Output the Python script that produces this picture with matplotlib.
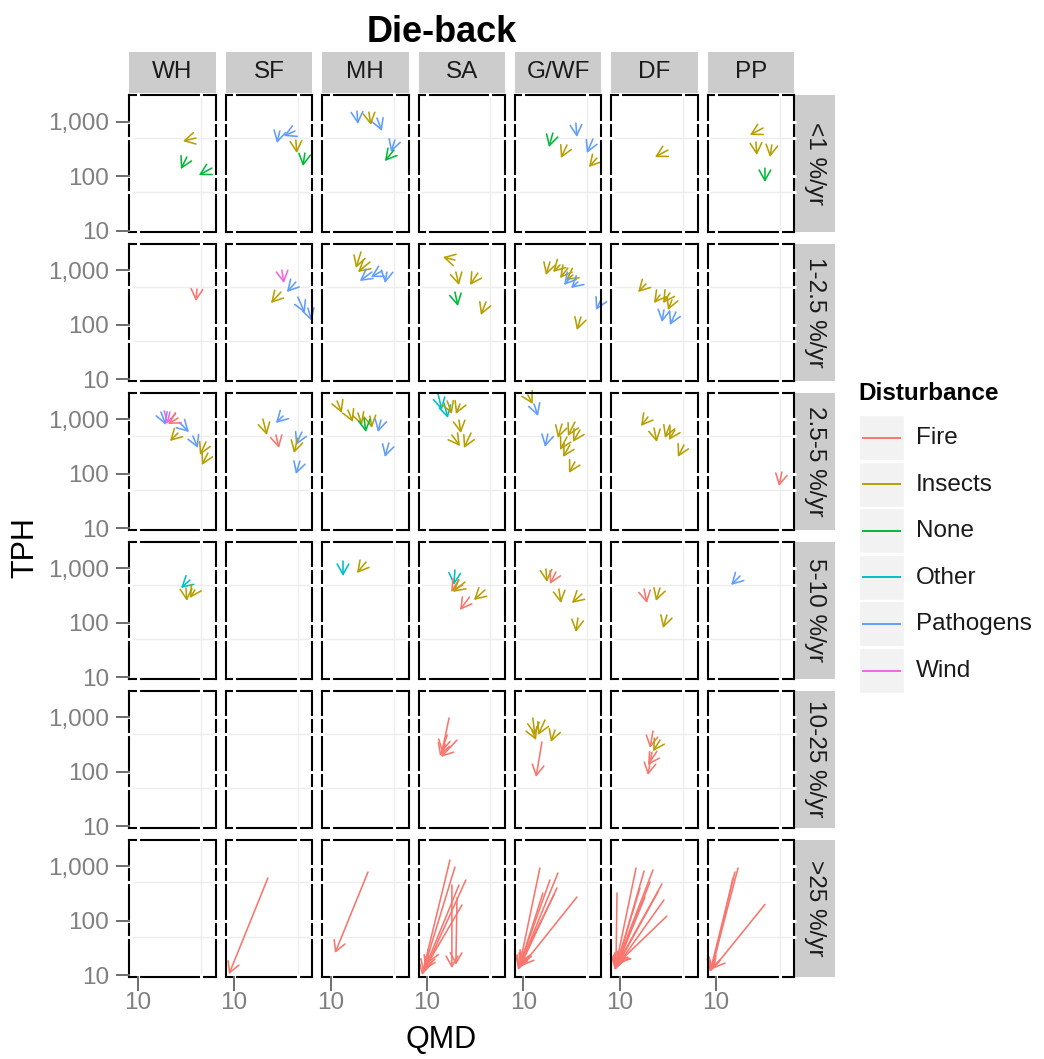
import matplotlib
matplotlib.use("Agg")
import matplotlib.pyplot as plt
import matplotlib.ticker as mticker
from matplotlib.patches import Rectangle

plt.rcParams['font.family'] = ['Liberation Sans', 'DejaVu Sans']

# ---------------- data ----------------
species = ["WH", "SF", "MH", "SA", "G/WF", "DF", "PP"]
rates = ["<1 %/yr", "1-2.5 %/yr", "2.5-5 %/yr", "5-10 %/yr", "10-25 %/yr", ">25 %/yr"]
disturbances = ["Fire", "Insects", "None", "Other", "Pathogens", "Wind"]
dist_colors = ["#F8766D", "#B79F00", "#00BA38", "#00BFC4", "#619CFF", "#F564E3"]

y_breaks = [10, 100, 1000]
y_labels = ["10", "100", "1,000"]
y_minor = [50, 500]
x_breaks = [10]
x_labels = ["10"]
x_minor = [50]

# (species, disturbance, QMD start, TPH start, QMD end, TPH end)
rate_lt1 = [
    ("WH", "Insects", 43.6, 498, 31.4, 438),
    ("WH", "None", 34.7, 223, 29.8, 134),
    ("WH", "None", 65.3, 140, 47.0, 104),
    ("SF", "Pathogens", 31.8, 670, 29.5, 403),
    ("SF", "Pathogens", 46.6, 670, 35.2, 542),
    ("SF", "Insects", 47.7, 458, 48.9, 264),
    ("SF", "None", 60.0, 264, 57.0, 152),
    ("MH", "Pathogens", 19.5, 1560, 20.0, 900),
    ("MH", "Insects", 26.4, 1490, 27.8, 863),
    ("MH", "Pathogens", 32.4, 1160, 36.7, 670),
    ("MH", "Pathogens", 51.0, 458, 46.2, 276),
    ("MH", "None", 49.8, 300, 39.6, 188),
    ("G/WF", "None", 21.1, 615, 19.1, 340),
    ("G/WF", "Insects", 30.2, 371, 25.9, 214),
    ("G/WF", "Pathogens", 37.8, 937, 38.8, 520),
    ("G/WF", "Pathogens", 58.2, 478, 50.0, 264),
    ("G/WF", "Insects", 64.4, 214, 52.6, 146),
    ("DF", "Insects", 33.9, 300, 24.4, 223),
    ("PP", "Insects", 32.7, 760, 23.5, 565),
    ("PP", "Insects", 27.4, 421, 28.0, 243),
    ("PP", "Insects", 41.0, 371, 39.0, 223),
    ("PP", "None", 34.4, 140, 34.4, 77.6),
]

rate_1_2p5 = [
    ("WH", "Fire", 44.8, 456, 43.6, 274),
    ("SF", "Wind", 33.5, 1016, 35.2, 587),
    ("SF", "Pathogens", 47.7, 612, 38.0, 402),
    ("SF", "Insects", 32.7, 402, 25.4, 252),
    ("SF", "Pathogens", 50.2, 325, 60.0, 165),
    ("SF", "Pathogens", 64.7, 204, 71.6, 118),
    ("MH", "Insects", 21.6, 2178, 19.0, 1107),
    ("MH", "Insects", 27.1, 1427, 20.0, 935),
    ("MH", "Pathogens", 28.5, 935, 21.0, 640),
    ("MH", "Pathogens", 36.7, 975, 27.8, 757),
    ("MH", "Pathogens", 41.7, 935, 39.6, 587),
    ("SA", "Insects", 20.3, 1552, 15.0, 1762),
    ("SA", "Insects", 20.8, 935, 22.5, 540),
    ("SA", "Insects", 36.3, 896, 29.7, 540),
    ("SA", "None", 20.3, 402, 21.9, 222),
    ("SA", "Insects", 44.5, 263, 39.2, 152),
    ("G/WF", "Insects", 19.6, 1428, 17.7, 824),
    ("G/WF", "Insects", 25.3, 1260, 21.2, 936),
    ("G/WF", "Insects", 30.9, 1108, 25.3, 727),
    ("G/WF", "Insects", 35.1, 824, 29.4, 667),
    ("G/WF", "Pathogens", 32.5, 727, 28.0, 541),
    ("G/WF", "Pathogens", 39.8, 614, 33.4, 476),
    ("G/WF", "Pathogens", 71.3, 287, 62.9, 188),
    ("G/WF", "Insects", 43.0, 140, 38.8, 80.7),
    ("DF", "Insects", 19.4, 564, 15.9, 402),
    ("DF", "Insects", 27.7, 354, 23.8, 252),
    ("DF", "Insects", 35.6, 386, 29.9, 252),
    ("DF", "Insects", 37.5, 287, 33.9, 188),
    ("DF", "Pathogens", 30.6, 188, 29.1, 113),
    ("DF", "Pathogens", 41.5, 173, 35.6, 99.8),
]

rate_2p5_5 = [
    ("WH", "Pathogens", 18.0, 1363, 20.4, 787),
    ("WH", "Wind", 22.6, 1363, 20.9, 821),
    ("WH", "Fire", 27.7, 1057, 21.5, 821),
    ("WH", "Insects", 27.7, 561, 22.6, 400),
    ("WH", "Pathogens", 29.1, 856, 36.6, 585),
    ("WH", "Pathogens", 40.4, 494, 45.9, 298),
    ("WH", "Insects", 56.2, 384, 48.3, 222),
    ("WH", "Insects", 59.1, 241, 50.8, 145),
    ("SF", "Insects", 20.7, 1014, 22.9, 516),
    ("SF", "Pathogens", 34.4, 1151, 28.8, 856),
    ("SF", "Fire", 28.8, 516, 31.1, 298),
    ("SF", "Pathogens", 55.6, 585, 47.8, 338),
    ("SF", "Insects", 50.3, 455, 45.4, 241),
    ("SF", "Pathogens", 52.9, 172, 47.8, 99.3),
    ("MH", "Insects", 11.8, 2170, 13.3, 1307),
    ("MH", "Insects", 15.5, 1483, 17.6, 893),
    ("MH", "Insects", 20.0, 1307, 22.2, 787),
    ("MH", "Insects", 27.1, 1151, 28.5, 694),
    ("MH", "None", 23.3, 1057, 24.5, 585),
    ("MH", "Pathogens", 35.8, 973, 33.2, 585),
    ("MH", "Pathogens", 43.8, 368, 39.6, 204),
    ("SA", "Other", 13.2, 3000, 14.6, 1483),
    ("SA", "Other", 15.4, 1990, 17.0, 1057),
    ("SA", "Insects", 16.7, 2170, 18.8, 1253),
    ("SA", "Insects", 23.1, 1910, 20.8, 1253),
    ("SA", "Insects", 22.5, 973, 23.6, 561),
    ("SA", "Insects", 30.5, 561, 25.5, 298),
    ("SA", "Insects", 18.8, 516, 23.1, 324),
    ("G/WF", "Insects", 11.2, 2795, 12.7, 1910),
    ("G/WF", "Pathogens", 13.1, 1910, 14.5, 1151),
    ("G/WF", "Pathogens", 18.6, 538, 17.3, 311),
    ("G/WF", "Insects", 26.6, 821, 24.0, 455),
    ("G/WF", "Insects", 36.9, 893, 30.9, 494),
    ("G/WF", "Insects", 41.9, 637, 35.1, 384),
    ("G/WF", "Insects", 30.2, 474, 25.3, 274),
    ("G/WF", "Insects", 32.5, 338, 27.3, 204),
    ("G/WF", "Insects", 36.9, 165, 31.7, 104),
    ("DF", "Insects", 20.4, 1104, 17.1, 755),
    ("DF", "Insects", 23.8, 694, 25.6, 384),
    ("DF", "Insects", 35.6, 787, 31.4, 455),
    ("DF", "Insects", 40.4, 637, 34.7, 418),
    ("DF", "Insects", 50.8, 338, 43.6, 204),
    ("PP", "Fire", 52.9, 108, 49.0, 59.8),
]

rate_5_10 = [
    ("WH", "Other", 37.5, 608, 29.9, 434),
    ("WH", "Insects", 33.9, 434, 34.7, 251),
    ("WH", "Insects", 42.5, 399, 37.5, 284),
    ("MH", "Other", 13.7, 1358, 13.7, 720),
    ("MH", "Insects", 24.5, 1301, 19.5, 817),
    ("SA", "Other", 20.3, 928, 19.8, 493),
    ("SA", "Fire", 22.5, 608, 18.4, 367),
    ("SA", "Insects", 26.2, 559, 19.3, 367),
    ("SA", "Fire", 29.4, 297, 23.1, 171),
    ("SA", "Insects", 43.4, 399, 32.8, 261),
    ("G/WF", "Insects", 17.7, 968, 18.2, 559),
    ("G/WF", "Fire", 22.8, 853, 19.6, 514),
    ("G/WF", "Insects", 24.6, 416, 25.9, 230),
    ("G/WF", "Insects", 44.1, 337, 34.2, 230),
    ("G/WF", "Insects", 39.8, 122, 37.8, 67.6),
    ("DF", "Fire", 18.5, 416, 19.9, 230),
    ("DF", "Insects", 27.7, 434, 25.0, 251),
    ("DF", "Insects", 33.0, 139, 29.9, 80.0),
    ("PP", "Pathogens", 18.3, 720, 14.6, 493),
]

rate_10_25 = [
    ("SA", "Fire", 17.5, 964, 14.6, 229),
    ("SA", "Fire", 21.4, 380, 14.3, 186),
    ("SA", "Fire", 16.7, 470, 13.9, 194),
    ("G/WF", "Insects", 12.7, 964, 13.4, 470),
    ("G/WF", "Insects", 17.3, 886, 14.5, 470),
    ("G/WF", "Insects", 12.4, 581, 13.8, 380),
    ("G/WF", "Insects", 22.3, 581, 20.1, 350),
    ("G/WF", "Fire", 16.0, 350, 13.8, 79.7),
    ("DF", "Fire", 23.2, 557, 21.5, 272),
    ("DF", "Insects", 27.7, 380, 23.2, 236),
    ("DF", "Fire", 22.6, 229, 20.4, 86.7),
    ("DF", "Fire", 25.6, 236, 20.4, 132),
]

rate_gt25 = [
    ("SF", "Fire", 23.5, 603, 8.77, 10.4),
    ("MH", "Fire", 25.8, 777, 11.2, 25.4),
    ("SA", "Fire", 17.9, 1290, 8.82, 10.0),
    ("SA", "Fire", 20.3, 960, 9.04, 11.4),
    ("SA", "Fire", 22.5, 448, 9.51, 13.4),
    ("SA", "Fire", 26.8, 555, 10.3, 16.6),
    ("SA", "Fire", 24.3, 193, 9.27, 12.4),
    ("SA", "Fire", 18.8, 448, 18.8, 13.4),
    ("SA", "Fire", 21.4, 259, 20.8, 15.4),
    ("G/WF", "Fire", 15.2, 920, 8.95, 13.4),
    ("G/WF", "Fire", 24.0, 744, 9.17, 14.6),
    ("G/WF", "Fire", 16.4, 320, 8.95, 13.4),
    ("G/WF", "Fire", 23.4, 395, 9.4, 15.4),
    ("G/WF", "Fire", 21.7, 294, 9.17, 16.6),
    ("G/WF", "Fire", 38.8, 270, 9.6, 14.6),
    ("G/WF", "Fire", 19.6, 555, 8.73, 12.4),
    ("DF", "Fire", 15.1, 920, 8.86, 12.4),
    ("DF", "Fire", 18.5, 811, 9.08, 13.4),
    ("DF", "Fire", 23.2, 846, 9.08, 14.6),
    ("DF", "Fire", 29.1, 468, 9.32, 15.4),
    ("DF", "Fire", 21.5, 510, 9.08, 13.4),
    ("DF", "Fire", 26.3, 334, 9.32, 14.6),
    ("DF", "Fire", 30.6, 238, 9.56, 15.4),
    ("DF", "Fire", 33.0, 121, 9.56, 16.6),
    ("DF", "Fire", 16.7, 395, 8.86, 12.4),
    ("DF", "Fire", 18.9, 270, 9.08, 13.4),
    ("DF", "Fire", 9.32, 320, 9.08, 14.6),
    ("PP", "Fire", 17.4, 920, 8.77, 11.8),
    ("PP", "Fire", 16.1, 777, 8.55, 11.4),
    ("PP", "Fire", 15.3, 603, 9.0, 12.4),
    ("PP", "Fire", 34.4, 197, 9.2, 13.0),
]

rows_data = [rate_lt1, rate_1_2p5, rate_2p5_5, rate_5_10, rate_10_25, rate_gt25]

# ---------------- layout (pixels) ----------------
W, H = 1044, 1059
col_left0, col_step, panel_w = 129.3, 96.4, 86.5
row_top0, row_step, panel_h = 95.0, 148.9, 137.0
XLIM = (8.07, 72.2)
YLIM = (9.4, 3070)

tick_grey = "#7F7F7F"
color_of = dict(zip(disturbances, dist_colors))

fig = plt.figure(figsize=(W / 100, H / 100), dpi=100)
ov = fig.add_axes([0, 0, 1, 1])
ov.set_xlim(0, W)
ov.set_ylim(H, 0)
ov.set_axis_off()

ncol, nrow = len(species), len(rates)
for r in range(nrow):
    for c in range(ncol):
        L = col_left0 + c * col_step
        T = row_top0 + r * row_step
        ax = fig.add_axes([L / W, 1 - (T + panel_h) / H, panel_w / W, panel_h / H])
        ax.set_xscale("log")
        ax.set_yscale("log")
        ax.set_xlim(*XLIM)
        ax.set_ylim(*YLIM)
        ax.set_facecolor("white")
        ax.xaxis.set_minor_locator(mticker.NullLocator())
        ax.yaxis.set_minor_locator(mticker.NullLocator())
        if c == 0:
            ax.set_yticks(y_breaks)
            ax.set_yticklabels(y_labels, fontsize=17.5, color=tick_grey)
        else:
            ax.set_yticks([])
        if r == nrow - 1:
            ax.set_xticks(x_breaks)
            ax.set_xticklabels(x_labels, fontsize=17.5, color=tick_grey)
        else:
            ax.set_xticks([])
        ax.tick_params(axis="y", length=0, pad=14.4)
        ax.tick_params(axis="x", length=0, pad=11.5)
        for v in y_minor:
            ax.axhline(v, color="#EDEDED", lw=1.0, zorder=0.5)
        for v in x_minor:
            ax.axvline(v, color="#EDEDED", lw=1.0, zorder=0.5)
        for s in ax.spines.values():
            s.set_color("black")
            s.set_linewidth(1.5)
            s.set_zorder(3)
        ytr = ax.get_yaxis_transform()
        xtr = ax.get_xaxis_transform()
        gx = 2.2 / panel_w
        gy = 2.2 / panel_h
        for v in y_breaks[1:] + y_minor:
            for side in (0, 1):
                ax.plot([side - gx, side + gx], [v, v], transform=ytr, color="white",
                        lw=2.2, solid_capstyle="butt", clip_on=False, zorder=4)
        for v in x_breaks + x_minor:
            for side in (0, 1):
                ax.plot([v, v], [side - gy, side + gy], transform=xtr, color="white",
                        lw=2.2, solid_capstyle="butt", clip_on=False, zorder=4)
        if c == 0:
            for v in y_breaks:
                ax.plot([-12.5 / panel_w, 0], [v, v], transform=ytr, color="#6E6E6E",
                        lw=1.4, clip_on=False, zorder=5)
        if r == nrow - 1:
            for v in x_breaks:
                ax.plot([v, v], [-13.5 / panel_h, 0], transform=xtr, color="#6E6E6E",
                        lw=1.4, clip_on=False, zorder=5)
        # arrows
        for sp, dist, q0, t0, q1, t1 in rows_data[r]:
            if sp != species[c]:
                continue
            ax.annotate("", xy=(q1, t1), xytext=(q0, t0),
                        arrowprops=dict(arrowstyle="->,head_length=0.75,head_width=0.42",
                                        color=color_of[dist], lw=1.15, shrinkA=0, shrinkB=0,
                                        mutation_scale=10),
                        annotation_clip=False, zorder=2)

        # strips
        if r == 0:
            ov.add_patch(Rectangle((L, 52), panel_w, 40.5, fc="#CCCCCC", ec="none"))
            ov.text(L + panel_w / 2, 72.5, species[c], ha="center", va="center",
                    fontsize=17.5, color="#1A1A1A")
        if c == ncol - 1:
            ov.add_patch(Rectangle((L + panel_w + 1, T), 40, panel_h, fc="#CCCCCC", ec="none"))
            ov.text(L + panel_w + 21, T + panel_h / 2, rates[r], ha="center", va="center",
                    rotation=-90, fontsize=17.5, color="#1A1A1A")

# titles
ov.text(442, 32, "Die-back", ha="center", va="center", fontsize=26, fontweight="bold")
ov.text(25, 548, "TPH", ha="center", va="center", rotation=90, fontsize=22)
ov.text(441, 1040, "QMD", ha="center", va="center", fontsize=22)

# legend
ov.text(858, 394, "Disturbance", ha="left", va="center", fontsize=17.5, fontweight="bold")
for i, (name, col) in enumerate(zip(disturbances, dist_colors)):
    y0 = 415 + i * 46.6
    ov.add_patch(Rectangle((859, y0), 45, 45, fc="#F2F2F2", ec="white", lw=1))
    ov.plot([863, 900], [y0 + 22.5, y0 + 22.5], color=col, lw=1.4)
    ov.text(916, y0 + 23, name, ha="left", va="center", fontsize=17.5, color="#1A1A1A")

fig.savefig("out.png", dpi=100)
